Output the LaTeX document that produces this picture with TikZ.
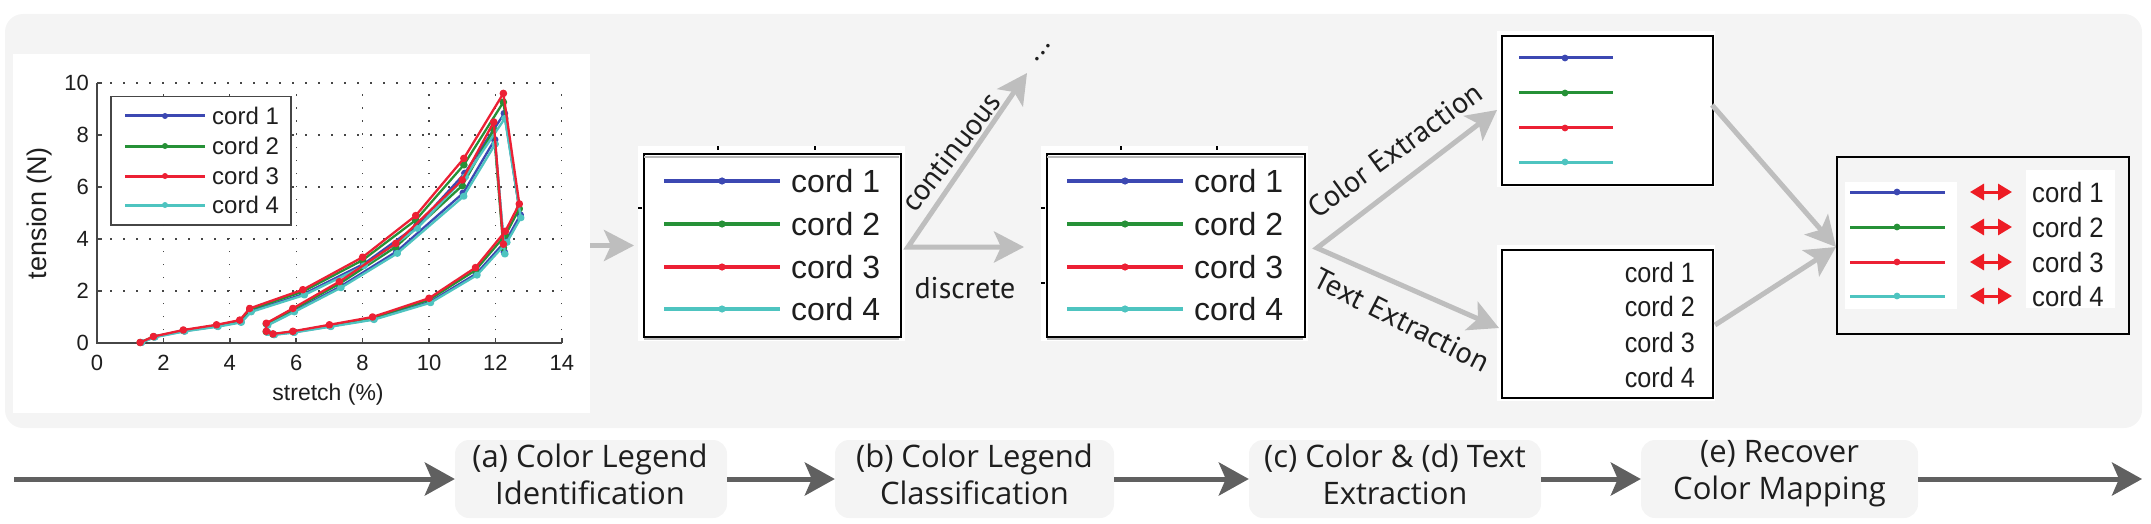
\documentclass[tikz,border=0pt]{standalone}
\usepackage{fontspec}
\usepackage{graphicx}
\setmainfont{Liberation Sans}
\newfontfamily\lblfont{PT Sans}
\newfontfamily\stagefont{Open Sans}
\usetikzlibrary{arrows.meta}
\definecolor{bgc}{RGB}{244,244,244}
\definecolor{arrgray}{RGB}{190,190,190}
\definecolor{darkarr}{RGB}{96,96,96}
\definecolor{axc}{RGB}{70,70,70}
\definecolor{txtc}{RGB}{30,30,30}
\definecolor{cblue}{RGB}{60,72,178}
\definecolor{cgreen}{RGB}{38,145,55}
\definecolor{cred}{RGB}{236,32,52}
\definecolor{ccyan}{RGB}{78,196,192}
\definecolor{aredc}{RGB}{237,28,36}
\tikzset{
  garrow/.style={draw=arrgray, line width=5pt, -{Stealth[length=30pt,width=31pt,inset=7pt]}},
  garrowtwo/.style={draw=arrgray, line width=5pt, {Stealth[length=30pt,width=31pt,inset=7pt]}-{Stealth[length=30pt,width=31pt,inset=7pt]}},
  darrow/.style={draw=darkarr, line width=5pt, -{Stealth[length=30pt,width=33pt,inset=7pt]}},
  redarrow/.style={draw=aredc, line width=3pt, {Triangle[length=14pt,width=16pt]}-{Triangle[length=14pt,width=16pt]}},
  lbl/.style={font=\lblfont\fontsize{30}{34}\selectfont, text=txtc, inner sep=0pt},
  stagebox/.style={fill=bgc, rounded corners=14pt, minimum height=78pt, inner sep=0pt},
  stagetext/.style={align=center, text=txtc, inner sep=0pt, font=\stagefont\fontsize{31}{37}\selectfont},
  legbox/.style={draw=black, line width=2pt, anchor=north west, inner sep=0pt},
  gridline/.style={draw=axc, line width=1.2pt, dash pattern=on 1.5pt off 11.5pt},
  axisline/.style={draw=axc, line width=1.6pt},
  ticklbl/.style={font=\fontsize{22}{24}\selectfont, text=txtc, inner sep=0pt},
  bigcord/.style={font=\fontsize{32}{36}\selectfont, text=txtc, inner sep=0pt, anchor=west},
  midcord/.style={font=\fontsize{28}{32}\selectfont, text=txtc, inner sep=0pt},
  smallcord/.style={font=\fontsize{24}{27}\selectfont, text=txtc, inner sep=0pt, anchor=west},
}
\newcommand{\cordcurve}[1]{\draw[#1, line width=2.3pt, line join=round] plot[mark=*, mark size=2.6pt] coordinates {(1.3,0.02) (1.7,0.25) (2.6,0.5) (3.6,0.7) (4.3,0.88) (4.6,1.33) (6.2,2.05) (8.0,3.3) (9.6,4.9) (11.05,7.1) (12.24,9.6) (12.72,5.35) (12.3,4.3) (11.4,2.9) (10.0,1.72) (8.3,1.0) (7.0,0.7) (5.9,0.45) (5.3,0.35) (5.1,0.45) (5.1,0.76) (5.9,1.33) (7.3,2.36) (9.0,3.83) (11.0,6.27) (11.95,8.5) (12.24,3.8)};}
\begin{document}
\begin{tikzpicture}[x=1pt,y=-1pt]
\useasboundingbox (0,0) rectangle (2151,524);
\fill[bgc, rounded corners=18pt] (5,14) rectangle (2142,428);

% ---------- plot ----------
\node[fill=white, minimum width=577pt, minimum height=359pt, anchor=north west, inner sep=0pt] (plotbg) at (13,54) {};
\begin{scope}[shift={(97pt,-343pt)}, x=33.2pt, y=26pt]
  \foreach \s in {2,4,...,14} \draw[gridline] (\s,0) -- (\s,10);
  \foreach \t in {2,4,...,10} \draw[gridline] (0,\t) -- (14,\t);
  \draw[axisline] (0,10) -- (0,0) -- (14,0);
  \foreach \s in {0,2,...,14} {
    \draw[axisline] (\s,0) -- ++(0pt,5pt);
    \node[ticklbl] (xt\s) at (\s,-0.77) {\s};
  }
  \foreach \t in {0,2,...,10} {
    \draw[axisline] (0,\t) -- ++(5pt,0pt);
    \node[ticklbl, anchor=east] (yt\t) at (-0.24,\t) {\t};
  }
  \node[ticklbl, font=\fontsize{23}{26}\selectfont] (xlab) at (6.96,-2.0) {stretch (\%)};
  \node[ticklbl, font=\fontsize{27}{30}\selectfont, rotate=90] (ylab) at (-1.72,5.0) {tension (N)};
  \cordcurve{cblue, xshift=1pt, yscale=0.92}
  \cordcurve{cgreen, yscale=0.965}
  \cordcurve{ccyan, xshift=1.5pt, yscale=0.9}
  \cordcurve{cred}
\end{scope}
\node[draw=axc, line width=1.5pt, fill=white, minimum width=180pt, minimum height=128pt, anchor=north west, inner sep=0pt] (plotleg) at (110,96) {};
\foreach \c/\y/\n in {cblue/116/1, cgreen/146/2, cred/176/3, ccyan/205/4} {
  \draw[\c, line width=3pt] (125,\y) -- (205,\y);
  \fill[\c] (165,\y) circle (3pt);
  \node[smallcord] (pl\n) at (212,\y) {cord \n};
}

% ---------- legend box 1 ----------
\fill[white] (638,146) rectangle (905,341);
\node[legbox, minimum width=257pt, minimum height=183pt] (b1) at (643,153) {};
\draw[gray!55, line width=2.5pt] (644,157) -- (899,157);
\draw[gray!55, line width=2pt] (644,338.5) -- (899,338.5);
\draw[black, line width=1.2pt] (718,146) -- (718,150) (815,146) -- (815,150) (638,208) -- (642,208);
\foreach \c/\y/\n in {cblue/181/1, cgreen/224/2, cred/267/3, ccyan/309/4} {
  \draw[\c, line width=4pt] (664,\y) -- (780,\y);
  \fill[\c] (722,\y) circle (3.6pt);
  \node[bigcord] (ba\n) at (791,\y) {cord \n};
}

% ---------- legend box 2 ----------
\fill[white] (1041,146) rectangle (1308,341);
\node[legbox, minimum width=258pt, minimum height=183pt] (b2) at (1046,153) {};
\draw[gray!55, line width=2.5pt] (1047,157) -- (1303,157);
\draw[gray!55, line width=2pt] (1047,338.5) -- (1303,338.5);
\draw[black, line width=1.2pt] (1121,146) -- (1121,150) (1217,146) -- (1217,150) (1041,208) -- (1045,208) (1041,283) -- (1045,283);
\foreach \c/\y/\n in {cblue/181/1, cgreen/224/2, cred/267/3, ccyan/309/4} {
  \draw[\c, line width=4pt] (1067,\y) -- (1183,\y);
  \fill[\c] (1125,\y) circle (3.6pt);
  \node[bigcord] (bb\n) at (1194,\y) {cord \n};
}

% ---------- box 3: colour extraction ----------
\fill[white] (1497,31) rectangle (1715,187);
\node[legbox, minimum width=211pt, minimum height=149pt] (b3) at (1501,35) {};
\foreach \c/\y/\n in {cblue/58/1, cgreen/93/2, cred/128/3, ccyan/162/4} {
  \draw[\c, line width=3pt] (1519,\y) -- (1613,\y);
  \fill[\c] (1565,\y) circle (3.4pt);
}

% ---------- box 4: text extraction ----------
\fill[white] (1497,245) rectangle (1715,401);
\node[legbox, minimum width=211pt, minimum height=148pt] (b4) at (1501,249) {};
\foreach \y/\n in {272/1, 306/2, 342/3, 377/4} {
  \node[midcord, anchor=east] (bt\n) at (1695,\y) {\scalebox{0.9}[1]{cord \n}};
}

% ---------- box 5: recovered mapping ----------
\node[legbox, fill=bgc, minimum width=292pt, minimum height=177pt] (b5) at (1836,156) {};
\fill[white] (1845,182) rectangle (1957,309);
\fill[white] (2026,170) rectangle (2115,308);
\foreach \c/\y/\n in {cblue/192/1, cgreen/227/2, cred/262/3, ccyan/296/4} {
  \draw[\c, line width=3pt] (1850,\y) -- (1945,\y);
  \fill[\c] (1897,\y) circle (3.4pt);
  \coordinate (ral\n) at (1970,\y);
  \coordinate (rar\n) at (2012,\y);
  \draw[redarrow] (ral\n) -- (rar\n);
  \node[midcord, anchor=west] (bm\n) at (2032,\y) {\scalebox{0.92}[1]{cord \n}};
}

% ---------- gray flow arrows ----------
\draw[garrow] (plotbg.east |- b1.west) -- (b1.west) [shorten >=9pt];
\coordinate (v1) at (908,247);
\coordinate (contend) at (1027,73);
\coordinate (discend) at (1024,247);
\draw[garrowtwo, line join=miter] (contend) -- (v1) -- (discend);
\node[lbl, rotate=52] (contlbl) at (951,152) {continuous};
\node[lbl, anchor=base] (disclbl) at (965,298) {discrete};
\node[lbl, rotate=52] (dotslbl) at (1043,53) {...};

\coordinate (v2) at (1317,248);
\coordinate (colend) at (1497,110);
\coordinate (txtend) at (1499,328);
\draw[garrowtwo, line join=miter] (colend) -- (v2) -- (txtend);
\node[lbl, rotate=36] (collbl) at (1395,150) {Color Extraction};
\node[lbl, rotate=-27] (txtlbl) at (1402,320) {Text Extraction};

\coordinate (b3out) at (1712,105);
\coordinate (b4out) at (1715,325);
\coordinate (b5in) at (1836,247);
\draw[garrow] (b3out) -- (b5in);
\draw[garrow] (b4out) -- (b5in);

% ---------- bottom pipeline ----------
\node[stagebox, minimum width=272pt] (sa) at (591,479) {};
\node[stagebox, minimum width=279pt] (sb) at (974.5,479) {};
\node[stagebox, minimum width=292pt] (sc) at (1395,479) {};
\node[stagebox, minimum width=277pt] (se) at (1779.5,479) {};
\node[stagetext] (sat) at (590,474) {(a) Color Legend\\Identification};
\node[stagetext] (sbt) at (974.5,474) {(b) Color Legend\\Classification};
\node[stagetext] (sct) at (1395,474) {(c) Color \& (d) Text\\Extraction};
\node[stagetext] (set) at (1779.5,474) {(e) Recover\\Color Mapping};
\coordinate (pstart) at (14,479);
\coordinate (pend) at (2142,479);
\draw[darrow] (pstart) -- (sa.west);
\draw[darrow] (sa.east) -- (sb.west);
\draw[darrow] (sb.east) -- (sc.west);
\draw[darrow] (sc.east) -- (se.west);
\draw[darrow] (se.east) -- (pend);
\end{tikzpicture}
\end{document}
